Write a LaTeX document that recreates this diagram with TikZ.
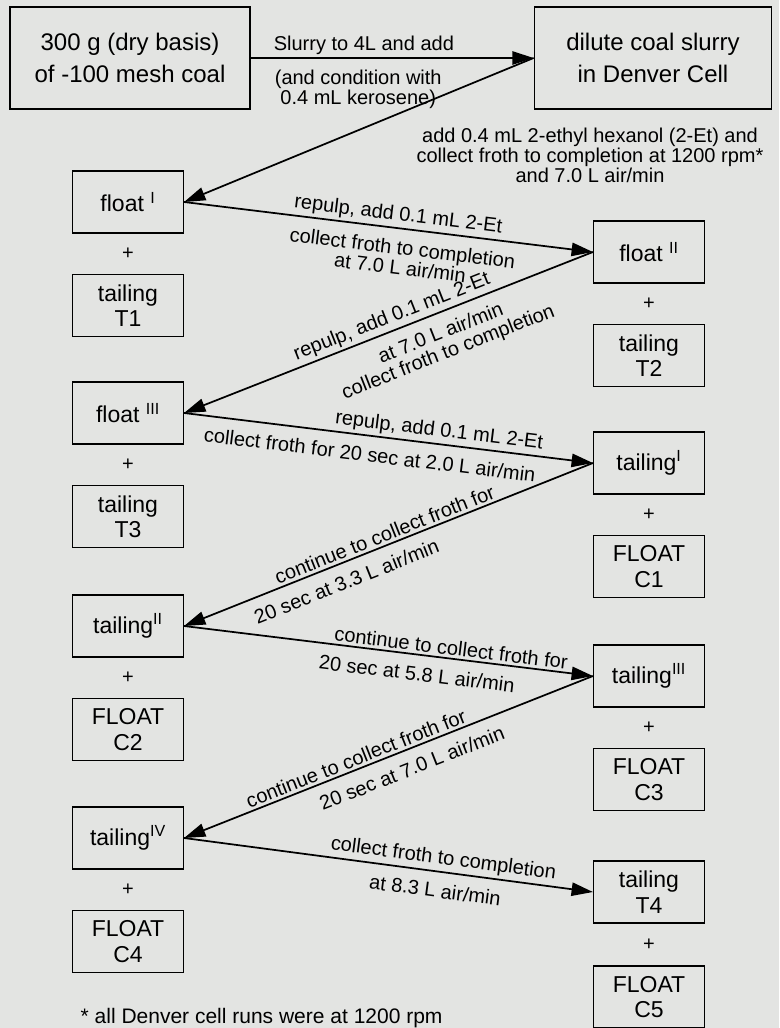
\documentclass[tikz,border=0pt]{standalone}
\usepackage{fontspec}
\setmainfont{Liberation Sans}
\usetikzlibrary{positioning, arrows.meta, calc}
\definecolor{scan}{RGB}{227,228,226}

\begin{document}
\begin{tikzpicture}[x=0.75pt, y=-0.75pt,
        every node/.style={font=\fontsize{15}{15}\selectfont},
        stage/.style={rectangle, draw, line width=1.1pt, minimum width=83pt, minimum height=46.5pt, align=center, inner sep=1pt, font=\fontsize{17.25}{19}\selectfont},
        feed/.style={stage, minimum width=#1, minimum height=76.5pt, font=\fontsize{18}{24}\selectfont},
        plus/.style={inner sep=0pt},
        arrow/.style={-{Triangle[length=16pt, width=10pt]}, line width=1.3pt},
        lblup/.style={align=center, inner sep=2pt, sloped, above},
        lbldown/.style={align=center, inner sep=2pt, sloped, below=6pt}
    ]
    \fill[scan] (0,0) rectangle (779,1028);
    \useasboundingbox (0,0) rectangle (779,1028);
%
    \node[feed=180pt] (coal) at (130,58) {300 g (dry basis)\\of -100 mesh coal};
    \node[feed=178pt] (denver) at (653,58) {dilute coal slurry\\in Denver Cell};
    \node[align=center] (note) at (590,155) {add 0.4 mL 2-ethyl hexanol (2-Et) and\\collect froth to completion at 1200 rpm*\\and 7.0 L air/min};
%
    % left column
    \node[stage] (fI) at (128,202) {float \textsuperscript{I}};
    \node[stage, below=30pt of fI] (tT1) {tailing\\T1};
    \node[plus] (p1) at ($(fI.south)!0.5!(tT1.north)$) {+};
    \node[stage] (fIII) at (128,413) {float \textsuperscript{III}};
    \node[stage, below=30pt of fIII] (tT3) {tailing\\T3};
    \node[plus] (p3) at ($(fIII.south)!0.5!(tT3.north)$) {+};
    \node[stage] (tII) at (128,626) {tailing\textsuperscript{II}};
    \node[stage, below=30pt of tII] (fC2) {FLOAT\\C2};
    \node[plus] (p5) at ($(tII.south)!0.5!(fC2.north)$) {+};
    \node[stage] (tIV) at (128,838) {tailing\textsuperscript{IV}};
    \node[stage, below=30pt of tIV] (fC4) {FLOAT\\C4};
    \node[plus] (p7) at ($(tIV.south)!0.5!(fC4.north)$) {+};
%
    % right column
    \node[stage] (fII) at (649,252) {float \textsuperscript{II}};
    \node[stage, below=30pt of fII] (tT2) {tailing\\T2};
    \node[plus] (p2) at ($(fII.south)!0.5!(tT2.north)$) {+};
    \node[stage] (tI) at (649,463) {tailing\textsuperscript{I}};
    \node[stage, below=30pt of tI] (fC1) {FLOAT\\C1};
    \node[plus] (p4) at ($(tI.south)!0.5!(fC1.north)$) {+};
    \node[stage] (tIII) at (649,676) {tailing\textsuperscript{III}};
    \node[stage, below=30pt of tIII] (fC3) {FLOAT\\C3};
    \node[plus] (p6) at ($(tIII.south)!0.5!(fC3.north)$) {+};
    \node[stage] (tT4) at (649,892) {tailing\\T4};
    \node[stage, below=31pt of tT4] (fC5) {FLOAT\\C5};
    \node[plus] (p8) at ($(tT4.south)!0.5!(fC5.north)$) {+};
%
    \node[anchor=west, font=\fontsize{15.75}{16}\selectfont] (foot) at (76,1018) {* all Denver cell runs were at 1200 rpm};
%
    \draw[arrow] (coal) -- node[lblup, pos=0.4] {Slurry to 4L and add} node[lbldown, pos=0.38] {(and condition with\\0.4 mL kerosene)} (denver);
    \draw[arrow] (denver.west) -- (fI.east);
    \draw[arrow] (fI.east) -- node[lblup, pos=0.52] {repulp, add 0.1 mL 2-Et} node[lbldown, pos=0.54] {collect froth to completion\\at 7.0 L air/min} (fII.west);
    \draw[arrow] (fII.west) -- node[lblup, pos=0.48] {repulp, add 0.1 mL 2-Et} node[lbldown, pos=0.39] {at 7.0 L air/min\\collect froth to completion} (fIII.east);
    \draw[arrow] (fIII.east) -- node[lblup, pos=0.62] {repulp, add 0.1 mL 2-Et} node[lbldown, pos=0.46] {collect froth for 20 sec at 2.0 L air/min} (tI.west);
    \draw[arrow] (tI.west) -- node[lblup, pos=0.5] {continue to collect froth for} node[lbldown, pos=0.62] {20 sec at 3.3 L air/min} (tII.east);
    \draw[arrow] (tII.east) -- node[lblup, pos=0.65] {continue to collect froth for} node[lbldown, pos=0.575] {20 sec at 5.8 L air/min} (tIII.west);
    \draw[arrow] (tIII.west) -- node[lblup, pos=0.57] {continue to collect froth for} node[lbldown, pos=0.46] {20 sec at 7.0 L air/min} (tIV.east);
    \draw[arrow] (tIV.east) -- node[lblup, pos=0.63] {collect froth to completion} node[lbldown, pos=0.62] {at 8.3 L air/min} (tT4.west);
%
\end{tikzpicture}
\end{document}
